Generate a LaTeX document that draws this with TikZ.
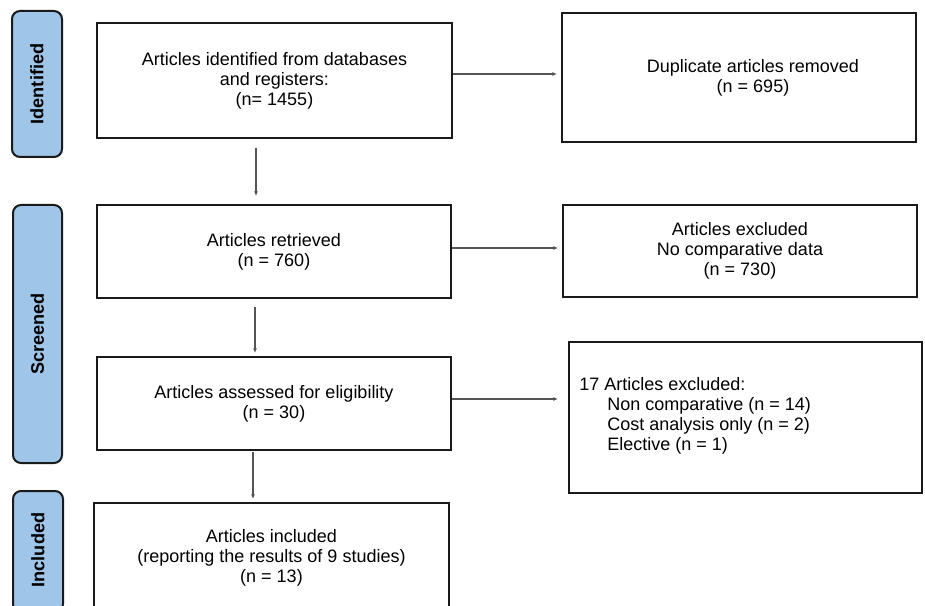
\documentclass[tikz,border=0pt]{standalone}
\usepackage{fontspec}
\setmainfont{Liberation Sans}
\usetikzlibrary{arrows.meta,calc}
\definecolor{barblue}{HTML}{9FC5E8}
\definecolor{lineblk}{HTML}{1A1A1A}
\definecolor{arrgray}{HTML}{555555}
\begin{document}
\begin{tikzpicture}[x=0.75pt,y=-0.75pt,
  box/.style={draw=lineblk,line width=1.5pt,fill=white,align=center,inner sep=0pt,font=\fontsize{13.5}{15}\selectfont},
  txt/.style={align=center,inner sep=0pt,font=\fontsize{13.5}{15}\selectfont},
  bar/.style={draw=lineblk,line width=1.5pt,fill=barblue,rounded corners=6pt,inner sep=0pt},
  barlabel/.style={rotate=90,inner sep=0pt,font=\fontsize{13.6}{15}\selectfont\bfseries},
  arr/.style={draw=arrgray,line width=0.8pt,-{Latex[length=3.5pt,width=3pt]}}]
\useasboundingbox (0,0) rectangle (925,606);

% stage bars
\node[bar,minimum width=37.5pt,minimum height=109.5pt] (barI) at (37,84) {};
\node[barlabel] (labI) at (barI.center) {Identified};
\node[bar,minimum width=36.75pt,minimum height=193.5pt] (barS) at (37.5,334) {};
\node[barlabel] (labS) at (barS.center) {Screened};
\node[bar,minimum width=37.5pt,minimum height=90.75pt] (barC) at (38,551.5) {};
\node[barlabel] (labC) at (38,550) {Included};

% main column
\node[box,minimum width=266.25pt,minimum height=86.25pt] (b1) at (274.5,80.5)
  {Articles identified from databases\\and registers:\\(n= 1455)};
\node[box,minimum width=265.5pt,minimum height=69.75pt] (b2) at (274,251.5)
  {Articles retrieved\\(n = 760)};
\node[box,minimum width=265.5pt,minimum height=69.75pt] (b3) at (274,403.5)
  {Articles assessed for eligibility\\(n = 30)};
\node[box,minimum width=266.25pt,minimum height=82.5pt] (b4) at (271.5,558)
  {Articles included\\(reporting the results of 9 studies)\\(n = 13)};

% right column
\node[box,minimum width=265.5pt,minimum height=96.75pt] (r1) at (739,77.5) {};
\node[txt] (r1t) at (753,77.5) {Duplicate articles removed\\(n = 695)};
\node[box,minimum width=265.5pt,minimum height=69pt] (r2) at (740,251)
  {Articles excluded\\No comparative data\\(n = 730)};
\node[box,minimum width=264.75pt,minimum height=113.25pt] (r3) at (745.5,417.5) {};
\node[txt,align=left,anchor=west] (r3t) at (579,415.5)
  {17 Articles excluded:\\
   \hspace*{21pt}Non comparative (n = 14)\\
   \hspace*{21pt}Cost analysis only (n = 2)\\
   \hspace*{21pt}Elective (n = 1)};

% vertical arrows
\draw[arr,shorten <=6.75pt,shorten >=6pt] ($(b1.south)+(-18.5,0)$) -- ($(b2.north)+(-18,0)$);
\draw[arr,shorten <=6pt,shorten >=2.25pt] ($(b2.south)+(-19,0)$) -- ($(b3.north)+(-19,0)$);
\draw[arr,shorten <=0.5pt,shorten >=2.25pt] ($(b3.south)+(-21,0)$) -- ($(b4.north)+(-18.5,0)$);

% horizontal arrows
\draw[arr,shorten >=3pt] ($(b1.east)+(0,-6.5)$) -- ($(r1.west)+(0,-3.5)$);
\draw[arr,shorten >=3pt] ($(b2.east)+(0,-3.5)$) -- ($(r2.west)+(0,-3)$);
\draw[arr,shorten >=7.5pt] ($(b3.east)+(0,-4.5)$) -- ($(r3.west)+(0,-18.5)$);
\end{tikzpicture}
\end{document}
